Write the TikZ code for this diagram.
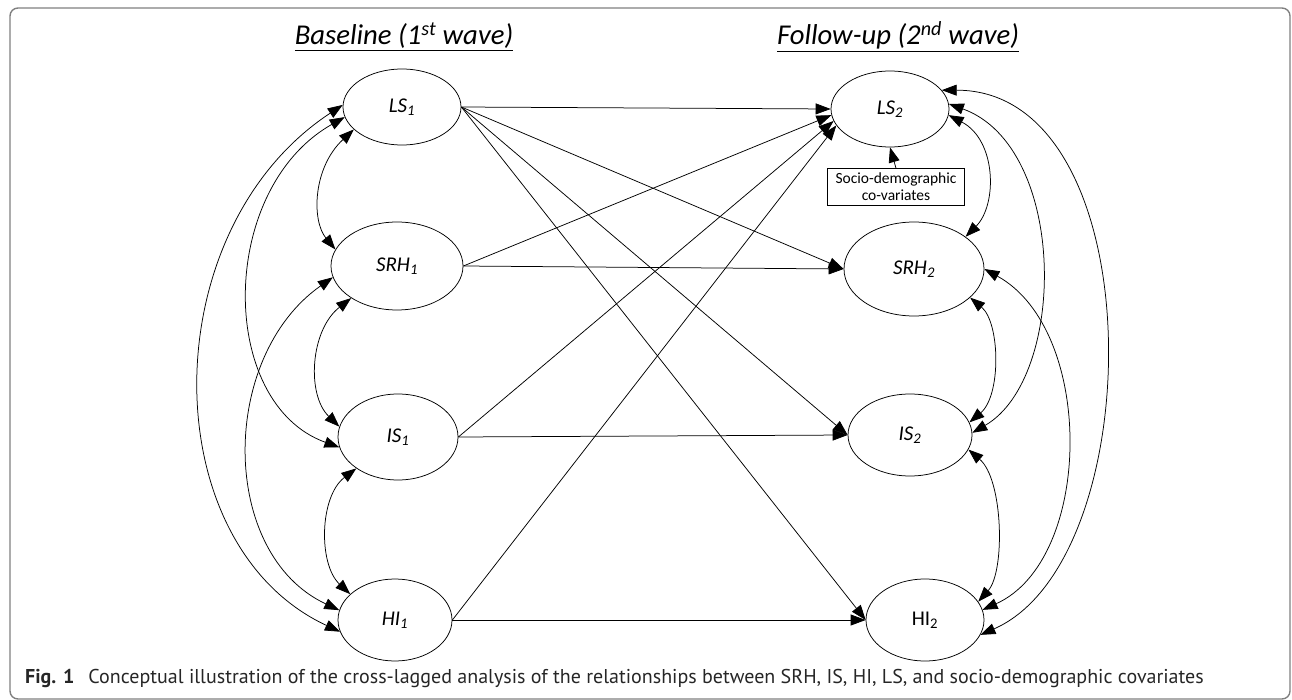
\documentclass[tikz,border=0pt]{standalone}
\usepackage{fontspec}
\setmainfont{Carlito}
\newfontfamily\capfont{PT Sans}
\usetikzlibrary{arrows.meta,shapes.geometric,positioning}

\begin{document}
\begin{tikzpicture}[x=1pt, y=-1pt,
    var/.style={ellipse, draw, line width=0.75pt, inner sep=0pt, font=\fontsize{21}{24}\selectfont\itshape},
    arrow/.style={->, line width=0.75pt, >={Triangle[length=15pt,width=11pt]}},
    both/.style={<->, line width=0.75pt, >={Triangle[length=15pt,width=11pt]}},
    wave/.style={anchor=base, font=\fontsize{28.7}{32}\selectfont\itshape},
    covbox/.style={rectangle, draw, line width=0.6pt, align=center, inner sep=2pt,
        minimum width=137pt, minimum height=37pt, font=\fontsize{15.5}{17}\selectfont}
]
    \useasboundingbox (0,0) rectangle (1292,700);
    \draw[gray, line width=1.4pt, rounded corners=8pt] (10,8) rectangle (1290,699);

    % wave titles
    \node[wave] (base) at (404,45) {\underline{Baseline (1\textsuperscript{st} wave)}};
    \node[wave] (follow) at (898,45) {\underline{Follow-up (2\textsuperscript{nd} wave)}};

    % baseline variables
    \node[var, minimum width=118pt, minimum height=76pt] (LS1) at (402,107) {LS\textsubscript{1}};
    \node[var, minimum width=132pt, minimum height=88pt] (SRH1) at (397,266) {SRH\textsubscript{1}};
    \node[var, minimum width=120pt, minimum height=86pt] (IS1) at (398,437) {IS\textsubscript{1}};
    \node[var, minimum width=114pt, minimum height=82pt] (HI1) at (395,620) {HI\textsubscript{1}};

    % follow-up variables
    \node[var, minimum width=118pt, minimum height=76pt] (LS2) at (890,109) {LS\textsubscript{2}};
    \node[var, minimum width=140pt, minimum height=94pt] (SRH2) at (914,269) {SRH\textsubscript{2}};
    \node[var, minimum width=124pt, minimum height=82pt] (IS2) at (910,435) {IS\textsubscript{2}};
    \node[var, minimum width=118pt, minimum height=82pt, font=\fontsize{21}{24}\selectfont] (HI2) at (925,620) {HI\textsubscript{2}};

    \node[covbox] (cov) at (896,187) {Socio-demographic\\co-variates};
    \draw[arrow] (cov.north) -- (LS2.south);

    % cross-lagged paths
    \draw[arrow] (LS1.east) -- (LS2.west);
    \draw[arrow] (LS1.east) -- (SRH2.west);
    \draw[arrow] (LS1.east) -- (IS2.west);
    \draw[arrow] (LS1.east) -- (HI2.west);
    \draw[arrow] (SRH1.east) -- (LS2.186);
    \draw[arrow] (SRH1.east) -- (SRH2.west);
    \draw[arrow] (IS1.east) -- (LS2.192);
    \draw[arrow] (IS1.east) -- (IS2.west);
    \draw[arrow] (HI1.east) -- (LS2.197);
    \draw[arrow] (HI1.east) -- (HI2.west);

    % correlations at baseline
    \draw[both] (LS1.205) .. controls +(-41,38) and +(-24,-29) .. (SRH1.165);
    \draw[both] (SRH1.215) .. controls +(-41,32) and +(-33,-32) .. (IS1.170);
    \draw[both] (IS1.217) .. controls +(-37,28) and +(-32,-30) .. (HI1.150);
    \draw[both] (LS1.190) .. controls +(-127,72) and +(-122,-44) .. (IS1.190);
    \draw[both] (SRH1.190) .. controls +(-114,80) and +(-120,-56) .. (HI1.170);
    \draw[both] (LS1.178) .. controls +(-190,125) and +(-187,-87) .. (HI1.192);

    % correlations at follow-up
    \draw[both] (LS2.354) .. controls +(48,25) and +(32,-32) .. (SRH2.32);
    \draw[both] (LS2.5) .. controls +(119,43) and +(95,-55) .. (IS2.2);
    \draw[both] (LS2.20) .. controls +(212,0) and +(171,-75) .. (HI2.345);
    \draw[both] (SRH2.333) .. controls +(30,25) and +(32,-27) .. (IS2.12);
    \draw[both] (IS2.346) .. controls +(35,30) and +(27,-30) .. (HI2.19);
    \draw[both] (SRH2.0) .. controls +(111,61) and +(111,-50) .. (HI2.10);

    \node[anchor=base west, inner sep=0pt, text=black!85, font=\capfont\fontsize{20}{22}\selectfont] (caption) at (25,683)
        {\textbf{Fig. 1}\hspace{0.7em}Conceptual illustration of the cross-lagged analysis of the relationships between SRH, IS, HI, LS, and socio-demographic covariates};
\end{tikzpicture}
\end{document}
